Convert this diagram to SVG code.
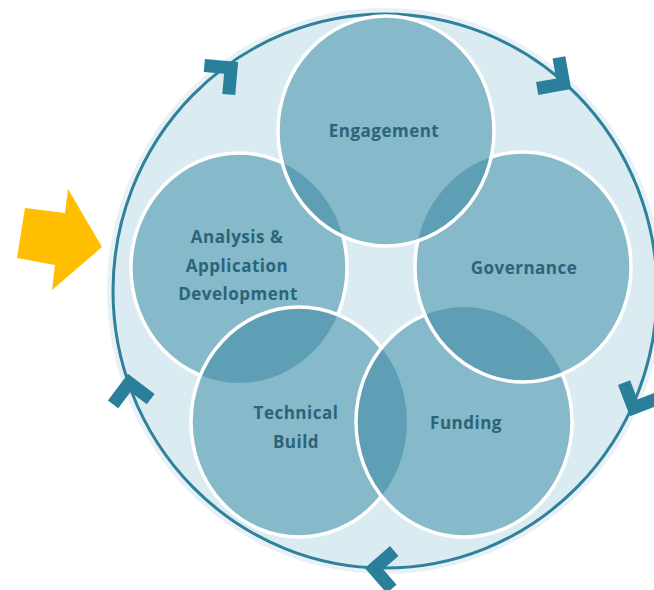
<svg xmlns="http://www.w3.org/2000/svg" width="654" height="590" viewBox="0 0 654 590">
<style>
.bubble{fill:#86b9ca}
.lens{fill:#5f9fb5}
.edge{fill:none;stroke:#ffffff;stroke-width:3.5}
.lbl{font-family:"Open Sans","DejaVu Sans",sans-serif;font-weight:bold;font-size:17px;fill:#2c6479;text-anchor:middle;letter-spacing:0.5px}
.chev{fill:none;stroke:#2a7f9b;stroke-width:13;stroke-linejoin:miter;stroke-linecap:butt}
</style>
<defs>
<clipPath id="cTech"><ellipse cx="299" cy="422" rx="108" ry="115"/></clipPath>
<clipPath id="cFund"><ellipse cx="464" cy="422" rx="108" ry="115"/></clipPath>
<clipPath id="cGov"><ellipse cx="523" cy="267" rx="108" ry="115"/></clipPath>
<clipPath id="cEng"><ellipse cx="386" cy="131" rx="108" ry="115"/></clipPath>
<path id="chevron" d="M-28,-19 L-9,0 L-28,19"/>
</defs>

<rect width="654" height="590" fill="#ffffff"/>

<g id="cycle-ring">
<ellipse cx="385" cy="291" rx="272" ry="277" fill="none" stroke="#e8f2f6" stroke-width="12"/>
<ellipse cx="385" cy="291" rx="272" ry="277" fill="#dbebf2" stroke="#2f819c" stroke-width="3"/>
</g>

<g id="analysis">
<ellipse class="bubble" cx="239" cy="268" rx="108" ry="115"/>
<ellipse class="edge" cx="239" cy="268" rx="108" ry="115"/>
<text class="lbl" x="237" y="243">Analysis &amp;</text>
<text class="lbl" x="237" y="272">Application</text>
<text class="lbl" x="238" y="300">Development</text>
</g>

<g id="technical-build">
<ellipse class="bubble" cx="299" cy="422" rx="108" ry="115"/>
<ellipse class="lens" cx="239" cy="268" rx="108" ry="115" clip-path="url(#cTech)"/>
<ellipse class="edge" cx="299" cy="422" rx="108" ry="115"/>
<text class="lbl" x="296" y="419">Technical</text>
<text class="lbl" x="296" y="448">Build</text>
</g>

<g id="funding">
<ellipse class="bubble" cx="464" cy="422" rx="108" ry="115"/>
<ellipse class="lens" cx="299" cy="422" rx="108" ry="115" clip-path="url(#cFund)"/>
<ellipse class="edge" cx="464" cy="422" rx="108" ry="115"/>
<text class="lbl" x="466" y="429">Funding</text>
</g>

<g id="governance">
<ellipse class="bubble" cx="523" cy="267" rx="108" ry="115"/>
<ellipse class="lens" cx="464" cy="422" rx="108" ry="115" clip-path="url(#cGov)"/>
<ellipse class="edge" cx="523" cy="267" rx="108" ry="115"/>
<text class="lbl" x="524" y="274">Governance</text>
</g>

<g id="engagement">
<ellipse class="bubble" cx="386" cy="131" rx="108" ry="115"/>
<ellipse class="lens" cx="239" cy="268" rx="108" ry="115" clip-path="url(#cEng)"/>
<ellipse class="lens" cx="523" cy="267" rx="108" ry="115" clip-path="url(#cEng)"/>
<ellipse class="edge" cx="386" cy="131" rx="108" ry="115"/>
<text class="lbl" x="384" y="137">Engagement</text>
</g>

<g id="connectors">
<use href="#chevron" class="chev" transform="translate(238,62) rotate(-40)"/>
<use href="#chevron" class="chev" transform="translate(571,89) rotate(35)"/>
<use href="#chevron" class="chev" transform="translate(630,416) rotate(114)"/>
<use href="#chevron" class="chev" transform="translate(365,568) rotate(184)"/>
<use href="#chevron" class="chev" transform="translate(128,374) rotate(-98)"/>
</g>

<g id="entry-arrow">
<polygon points="25,208 65,213 68,189 102,247 52,290 55,265 17,258" fill="#ffbf00"/>
</g>
</svg>
